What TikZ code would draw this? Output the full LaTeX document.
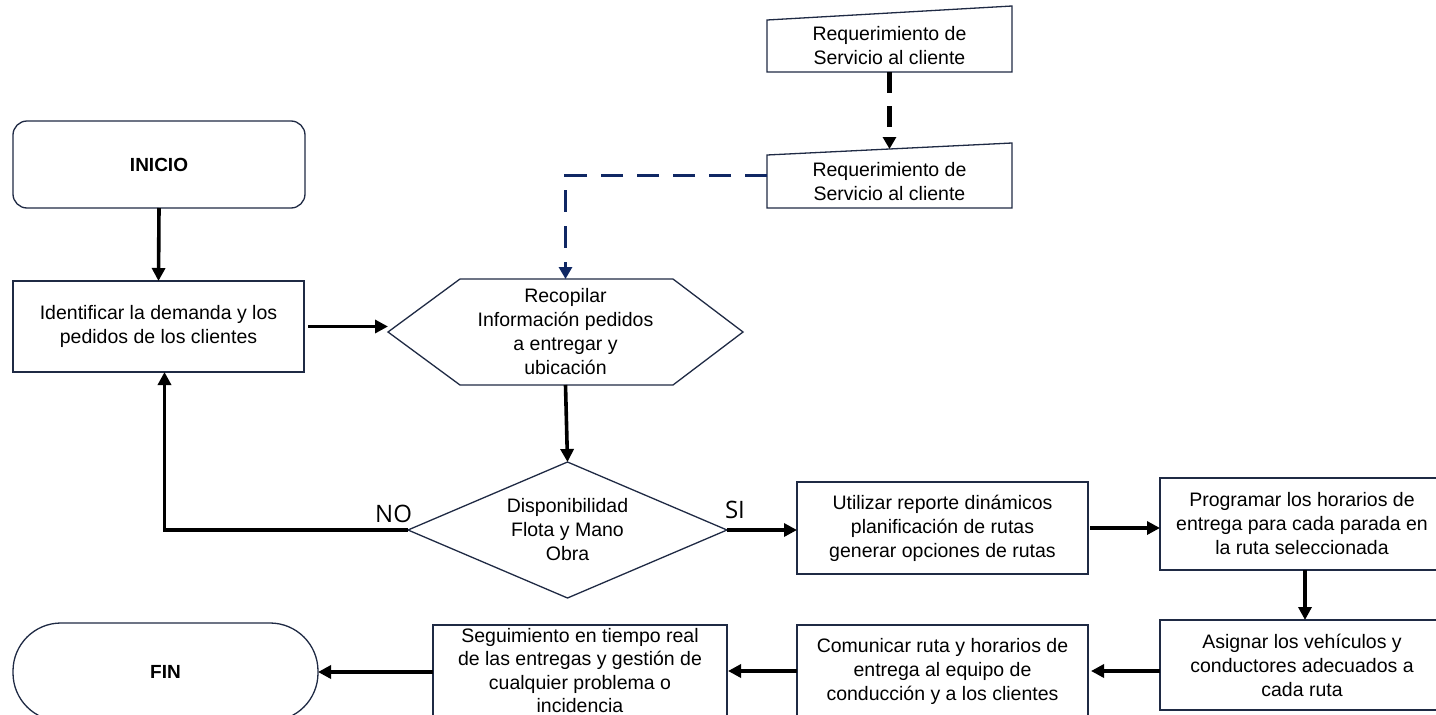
\documentclass[tikz,border=0pt]{standalone}
\usepackage{fontspec}
\setmainfont{Liberation Sans}
\newfontfamily\labelfont{Open Sans}
\usetikzlibrary{arrows.meta}
\definecolor{edge}{RGB}{31,42,68}
\definecolor{navyline}{RGB}{16,40,100}
\begin{document}
\begin{tikzpicture}[x=1pt,y=-1pt,
  every node/.style={font=\fontsize{19.5}{24}\selectfont, align=center, inner sep=0pt, outer sep=0pt},
  box/.style={draw=edge, line width=1.3pt},
  outline/.style={draw=edge, line width=1.3pt},
  arr/.style={line width=3.6pt, -{Triangle[length=13pt,width=13pt]}},
  dasharr/.style={line width=4.5pt, dash pattern=on 21pt off 13pt, -{Triangle[length=12pt,width=13pt]}},
  navyarr/.style={draw=navyline, line width=3.8pt, dash pattern=on 22pt off 14pt, -{Triangle[length=12pt,width=13pt,fill=navyline]}},
  yesno/.style={font=\labelfont\fontsize{24}{28}\selectfont}
]
\useasboundingbox (0,0) rectangle (1436,715);
\clip (0,0) rectangle (1436,715);
\fill[white] (0,0) rectangle (1436,715);

% start / end
\node[box, rounded corners=14pt, minimum width=292pt, minimum height=87pt,
      font=\bfseries\fontsize{19}{23}\selectfont] (inicio) at (159,164.5) {INICIO};
\node[box, rounded corners=48pt, minimum width=305pt, minimum height=98pt,
      font=\bfseries\fontsize{19}{23}\selectfont] (fin) at (165.5,672) {FIN};

% process boxes
\node[box, minimum width=291pt, minimum height=91pt] (ident) at (158.5,326.5)
  {Identificar la demanda y los\\pedidos de los clientes};
\node[box, minimum width=291pt, minimum height=92pt] (util) at (942.5,528)
  {Utilizar reporte dinámicos\\planificación de rutas\\generar opciones de rutas};
\node[box, minimum width=284pt, minimum height=92pt] (prog) at (1302,524)
  {Programar los horarios de\\entrega para cada parada en\\la ruta seleccionada};
\node[box, minimum width=284pt, minimum height=90pt] (asig) at (1302,665)
  {Asignar los vehículos y\\conductores adecuados a\\cada ruta};
\node[box, minimum width=291pt, minimum height=92pt] (com) at (942.5,671)
  {Comunicar ruta y horarios de\\entrega al equipo de\\conducción y a los clientes};
\node[box, minimum width=294pt, minimum height=91pt, font=\fontsize{19.5}{23.5}\selectfont] (seg) at (580,670.5)
  {Seguimiento en tiempo real\\de las entregas y gestión de\\cualquier problema o\\incidencia};

% manual inputs
\node[minimum width=245pt, minimum height=52pt] (req1) at (889.5,46)
  {Requerimiento de\\Servicio al cliente};
\draw[outline] (req1.south west) -- (req1.north west) -- ([yshift=14pt]req1.north east) -- (req1.south east) -- cycle;
\node[minimum width=245pt, minimum height=53pt] (req2) at (889.5,181.5)
  {Requerimiento de\\Servicio al cliente};
\draw[outline] (req2.south west) -- (req2.north west) -- ([yshift=12pt]req2.north east) -- (req2.south east) -- cycle;

% hexagon
\node[minimum width=355pt, minimum height=106pt] (hex) at (565.5,332)
  {Recopilar\\Información pedidos\\a entregar y\\ubicación};
\draw[outline] (hex.west) -- ([xshift=72pt]hex.north west) -- ([xshift=-70pt]hex.north east)
  -- (hex.east) -- ([xshift=-70pt]hex.south east) -- ([xshift=72pt]hex.south west) -- cycle;

% decision
\node[minimum width=319pt, minimum height=136pt] (dia) at (567.5,530)
  {Disponibilidad\\Flota y Mano\\Obra};
\draw[outline] (dia.north) -- (dia.east) -- (dia.south) -- (dia.west) -- cycle;

\node[yesno, anchor=base east] (no) at ([xshift=4pt,yshift=8pt]dia.west) {NO};
\node[yesno, anchor=base west] (si) at ([xshift=-2pt,yshift=12pt]dia.east) {SI};

% connectors
\draw[dasharr] (req1.south) -- ([yshift=6pt]req2.north);
\draw[navyarr] ([yshift=6pt]req2.west) -| (hex.north);
\draw[arr] (inicio.south) -- (ident.north);
\draw[arr] ([xshift=4pt]ident.east) -- (ident.east -| hex.west);
\draw[arr] (hex.south) -- (dia.north);
\draw[arr] (dia.west) -| ([xshift=6pt]ident.south);
\draw[arr] (dia.east) -- (dia.east -| util.west);
\draw[arr] ([xshift=2pt]util.east) -- (util.east -| prog.west);
\draw[arr] ([xshift=3pt]prog.south) -- ([xshift=3pt]asig.north);
\draw[arr] (asig.west |- com.east) -- ([xshift=3pt]com.east);
\draw[arr] (com.west) -- ([xshift=1pt]com.west -| seg.east);
\draw[arr] (fin.east -| seg.west) -- (fin.east);
\end{tikzpicture}
\end{document}
